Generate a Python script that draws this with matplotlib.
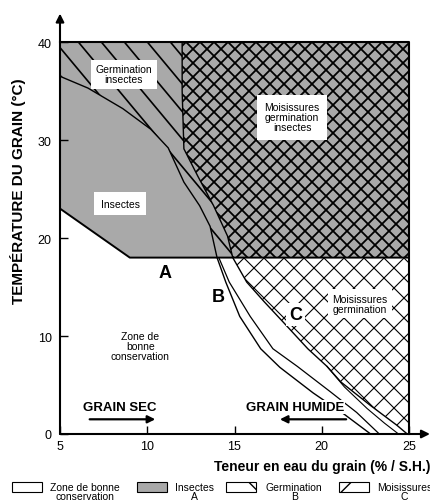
import numpy as np
import matplotlib
matplotlib.use("Agg")
import matplotlib.pyplot as plt
from matplotlib.patches import Polygon, Rectangle
from matplotlib.collections import LineCollection

plt.rcParams['font.family'] = ['Liberation Sans', 'DejaVu Sans']

# axes
x_ticks = [5, 10, 15, 20, 25]
y_ticks = [0, 10, 20, 30, 40]

# limite A : insectes (au-dessus)
a_x = [5, 9, 25]
a_y = [23, 18, 18]

# courbe B : germination (deux traits sous 18 degres)
b1_x = [5, 6.6, 8.6, 10.2, 11.2, 12.1, 13.0, 13.6, 14.0, 14.5, 15.3, 16.5, 17.6, 19.5, 21.3, 22.8]
b1_y = [36.5, 35.3, 33.2, 31.1, 29.2, 25.7, 23.3, 21.2, 18.0, 15.5, 12.0, 8.7, 6.8, 4.2, 2.0, 0]
b2_x = [14.1, 14.7, 15.9, 17.2, 18.6, 20.5, 22.0, 23.3]
b2_y = [18.0, 15.5, 12.0, 8.7, 6.9, 4.3, 2.2, 0]

# courbe C : moisissures
c_x = [12.0, 12.0, 12.1, 12.9, 13.8, 14.6, 14.9, 15.7, 16.7, 17.8, 19.2, 20.3, 21.1, 22.8, 24.3, 24.9]
c_y = [40, 35, 29.1, 26.3, 23.3, 20.2, 18.0, 15.5, 13.5, 11.4, 8.7, 6.9, 5.3, 2.9, 0.9, 0]
c2_x = [20.3, 21.3, 22.6, 23.6, 24.4]
c2_y = [6.9, 4.8, 2.6, 1.1, 0]

legend_labels = ['Zone de bonne\nconservation', 'Insectes\nA', 'Germination\nB', 'Moisissures\nC']

GRIS = '#a9a9a9'


def hachures(ax, clip, pas, sens, pente=1.0, lw=1.0):
    fig = ax.figure
    pos = ax.get_position()
    W = pos.width * fig.get_figwidth() * fig.dpi
    H = pos.height * fig.get_figheight() * fig.dpi
    run = H / pente
    segs = []
    for c in np.arange(-run - pas, W + pas, pas):
        if sens == '/':
            segs.append([(c / W, 0), ((c + run) / W, 1)])
        else:
            segs.append([(c / W, 1), ((c + run) / W, 0)])
    lc = LineCollection(segs, colors='black', linewidths=lw,
                        transform=ax.transAxes, zorder=2)
    ax.add_collection(lc, autolim=False)
    lc.set_clip_path(clip)


fig = plt.figure(figsize=(4.31, 5.02), dpi=100)
ax = fig.add_axes([60 / 431, 67 / 502, 349 / 431, 392 / 502])
ax.set_xlim(5, 25)
ax.set_ylim(0, 40)

# zones
b1_haut = [(x, y) for x, y in zip(b1_x, b1_y) if y >= 18]
c_haut = [(x, y) for x, y in zip(c_x, c_y) if y >= 18]
c_bas = [(x, y) for x, y in zip(c_x, c_y) if y <= 18]

zone_insectes = Polygon([(5, 40)] + list(zip(a_x, a_y)) + [(25, 40)],
                        closed=True, facecolor=GRIS, edgecolor='none', zorder=1)
ax.add_patch(zone_insectes)

zone_germ = Polygon([(5, 40)] + b1_haut + c_haut[::-1], closed=True,
                    fill=False, edgecolor='none')
ax.add_patch(zone_germ)
hachures(ax, zone_germ, 23, '\\', pente=1.2, lw=1.2)

zone_mois_haut = Polygon(c_haut + [(25, 18), (25, 40)], closed=True,
                         fill=False, edgecolor='none')
ax.add_patch(zone_mois_haut)
hachures(ax, zone_mois_haut, 14, '/', lw=1.3)
hachures(ax, zone_mois_haut, 14, '\\', lw=1.3)

zone_mois_bas = Polygon(c_bas + [(25, 0), (25, 18)], closed=True,
                        fill=False, edgecolor='none')
ax.add_patch(zone_mois_bas)
hachures(ax, zone_mois_bas, 20, '/', lw=0.8)
hachures(ax, zone_mois_bas, 20, '\\', lw=0.8)

# traits
ax.plot(a_x, a_y, color='k', lw=1.4, zorder=3)
ax.plot(b1_x, b1_y, color='k', lw=1.0, zorder=3)
ax.plot(b2_x, b2_y, color='k', lw=0.9, zorder=3)
ax.plot(c_x, c_y, color='k', lw=1.0, zorder=3)
ax.plot(c2_x, c2_y, color='k', lw=0.8, zorder=3)
ax.plot([5, 25, 25], [40, 40, 0], color='k', lw=1.5, zorder=4, clip_on=False)

# axes avec fleches
for s in ax.spines.values():
    s.set_visible(False)
ax.annotate('', xy=(26.2, 0), xytext=(5, 0), annotation_clip=False,
            arrowprops=dict(arrowstyle='-|>', lw=1.5, color='k',
                            mutation_scale=12, shrinkA=0, shrinkB=0))
ax.annotate('', xy=(5, 42.9), xytext=(5, 0), annotation_clip=False,
            arrowprops=dict(arrowstyle='-|>', lw=1.5, color='k',
                            mutation_scale=12, shrinkA=0, shrinkB=0))
ax.set_xticks(x_ticks)
ax.set_yticks(y_ticks)
ax.tick_params(direction='in', length=6, width=1, labelsize=9)
ax.tick_params(axis='x', pad=4)
ax.tick_params(axis='y', pad=6)

# textes dans le graphique
boite = dict(boxstyle='square,pad=0.45', facecolor='white', edgecolor='none')
ax.text(8.65, 36.7, 'Germination\ninsectes', fontsize=7.5, ha='center', va='center',
        linespacing=1.0, bbox=boite, zorder=6)
ax.text(8.45, 23.5, 'Insectes', fontsize=7.5, ha='center', va='center',
        bbox=dict(boxstyle='square,pad=0.6', facecolor='white', edgecolor='none'), zorder=6)
ax.text(18.3, 32.3, 'Moisissures\ngermination\ninsectes', fontsize=7.5, ha='center',
        va='center', linespacing=1.0,
        bbox=dict(boxstyle='square,pad=0.7', facecolor='white', edgecolor='none'), zorder=6)
ax.text(22.2, 13.3, 'Moisissures\ngermination', fontsize=7.5, ha='center', va='center',
        linespacing=1.0, bbox=boite, zorder=6)
ax.text(9.6, 9.0, 'Zone de\nbonne\nconservation', fontsize=7.5, ha='center', va='center',
        linespacing=1.0, zorder=6)

ax.text(11.0, 16.5, 'A', fontsize=13, fontweight='bold', ha='center', va='center', zorder=6)
ax.text(14.05, 14.0, 'B', fontsize=13, fontweight='bold', ha='center', va='center', zorder=6)
ax.text(18.5, 12.2, 'C', fontsize=13, fontweight='bold', ha='center', va='center',
        bbox=dict(boxstyle='square,pad=0.15', facecolor='white', edgecolor='none'), zorder=6)

ax.text(8.45, 2.75, 'GRAIN SEC', fontsize=9.5, fontweight='bold', ha='center', va='center',
        zorder=6)
ax.annotate('', xy=(10.46, 1.5), xytext=(6.7, 1.5),
            arrowprops=dict(arrowstyle='-|>', lw=1.6, color='k', mutation_scale=11,
                            shrinkA=0, shrinkB=0), zorder=6)
ax.text(18.45, 2.75, 'GRAIN HUMIDE', fontsize=9.5, fontweight='bold', ha='center',
        va='center', bbox=dict(boxstyle='square,pad=0.05', facecolor='white', edgecolor='none'),
        zorder=6)
ax.annotate('', xy=(17.6, 1.5), xytext=(21.4, 1.5),
            arrowprops=dict(arrowstyle='-|>', lw=1.6, color='k', mutation_scale=11,
                            shrinkA=0, shrinkB=0), zorder=6)

# titres des axes
fig.text(0.042, 0.62, 'TEMPÉRATURE DU GRAIN (°C)', rotation=90, fontsize=11,
         fontweight='bold', ha='center', va='center')
fig.text(0.998, 0.07, 'Teneur en eau du grain (% / S.H.)', fontsize=10,
         fontweight='bold', ha='right', va='center')

# legende
W, H = 431, 502
pos_case = [12, 137, 226, 339]
pos_texte = [50, 175, 266, 377]
fonds = ['white', GRIS, 'white', 'white']
motifs = [None, None, '\\', '/']
for lab, xc, xt, fc, mo in zip(legend_labels, pos_case, pos_texte, fonds, motifs):
    r = Rectangle((xc / W, (502 - 493) / H), 30 / W, 10 / H, transform=fig.transFigure,
                  facecolor=fc, edgecolor='k', lw=0.8, hatch=mo)
    fig.add_artist(r)
    fig.text(xt / W, (502 - 483) / H, lab, fontsize=7.5, ha='left', va='top',
             multialignment='center', linespacing=0.92)

fig.savefig('out.png', dpi=100)
